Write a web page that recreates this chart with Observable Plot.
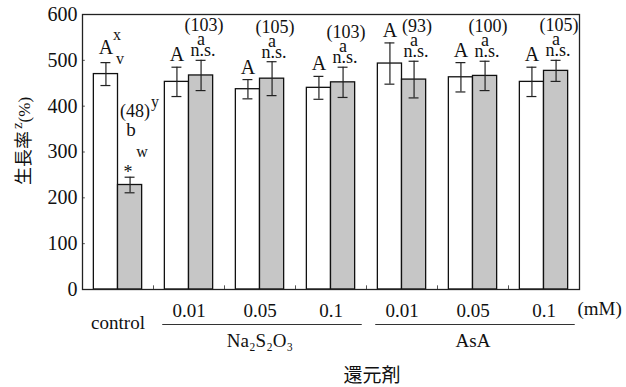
<!DOCTYPE html>
<html>
<head>
<meta charset="utf-8">
<script src="https://cdn.jsdelivr.net/npm/d3@7"></script>
<script src="https://cdn.jsdelivr.net/npm/@observablehq/plot@0.6"></script>
<style>
  html, body { margin: 0; padding: 0; background: white; }
</style>
</head>
<body>
<div id="chart"></div>
<script>
// ---- data ----
const groups = ["control", "Na-0.01", "Na-0.05", "Na-0.1", "AsA-0.01", "AsA-0.05", "AsA-0.1"];
const concLabels = ["", "0.01", "0.05", "0.1", "0.01", "0.05", "0.1"];
const agentNames = ["Na₂S₂O₃", "AsA"];
const agentOfGroup = [null, 0, 0, 0, 1, 1, 1];
const whiteMean = [470, 453, 437, 440, 493, 463, 453];
const whiteSD   = [25, 32, 21, 25, 45, 32, 32];
const grayMean  = [228, 467, 460, 452, 458, 466, 477];
const graySD    = [17, 33, 37, 33, 40, 32, 23];
const whiteLetters = ["A", "A", "A", "A", "A", "A", "A"];
const grayLetters  = ["b", "a", "a", "a", "a", "a", "a"];
const grayRatio    = ["(48)", "(103)", "(105)", "(103)", "(93)", "(100)", "(105)"];
const graySig      = ["*", "n.s.", "n.s.", "n.s.", "n.s.", "n.s.", "n.s."];
const yTicks = [0, 100, 200, 300, 400, 500, 600];

// ---- derived rows ----
const PAD = 0.16;
const rows = [];
groups.forEach((g, i) => {
  rows.push({gi: i, kind: "w", mean: whiteMean[i], sd: whiteSD[i], x1: i + PAD, x2: i + 0.5});
  rows.push({gi: i, kind: "g", mean: grayMean[i], sd: graySD[i], x1: i + 0.5, x2: i + 1 - PAD});
});
rows.forEach(d => { d.c = (d.x1 + d.x2) / 2; d.top = d.mean + d.sd; d.bot = d.mean - d.sd; });
const whites = rows.filter(d => d.kind === "w");
const grays = rows.filter(d => d.kind === "g");
const ctlW = whites.filter(d => d.gi === 0), othW = whites.filter(d => d.gi > 0);
const ctlG = grays.filter(d => d.gi === 0), othG = grays.filter(d => d.gi > 0);
const spans = agentNames.map((name, a) => {
  const idx = agentOfGroup.map((v, i) => v === a ? i : -1).filter(i => i >= 0);
  return {name, from: d3.min(idx), to: d3.max(idx) + 1};
});
const CAP = 0.07;
const serif = "Liberation Serif";
const cjk = "Noto Sans CJK JP";
const T = (data, opts) => Plot.text(data, {x: "c", y: "top", lineAnchor: "bottom", fontFamily: serif, fill: "#111", ...opts});

const svg = Plot.plot({
  width: 626, height: 387,
  marginLeft: 82, marginRight: 47, marginTop: 14, marginBottom: 98,
  x: {domain: [0, groups.length], axis: null},
  y: {domain: [0, 600], axis: null},
  style: {fontFamily: "'Liberation Serif', serif", fontSize: "18px", background: "white", color: "#111"},
  marks: [
    Plot.rect(rows, {x1: "x1", x2: "x2", y1: 0, y2: "mean",
      fill: d => d.kind === "w" ? "white" : "#c6c6c6", stroke: "#111", strokeWidth: 1.3}),
    // error bars
    Plot.ruleX(rows, {x: "c", y1: "bot", y2: "top", stroke: "#222", strokeWidth: 1.2}),
    Plot.ruleY(rows, {y: "top", x1: d => d.c - CAP, x2: d => d.c + CAP, stroke: "#222", strokeWidth: 1.2}),
    Plot.ruleY(rows, {y: "bot", x1: d => d.c - CAP, x2: d => d.c + CAP, stroke: "#222", strokeWidth: 1.2}),
    // inner ticks
    Plot.ruleY(yTicks.slice(1, -1), {y: d => d, x1: 0, x2: 0.04, stroke: "#555", strokeWidth: 1}),
    Plot.ruleX(d3.range(1, groups.length), {x: d => d, y1: 0, y2: 8, stroke: "#555", strokeWidth: 1}),
    Plot.frame({stroke: "#222", strokeWidth: 1.3}),
    Plot.axisY(yTicks, {tickSize: 0, tickPadding: 5, fontSize: 20, fontFamily: serif, label: null}),
    // white-bar letters
    T(othW, {text: d => whiteLetters[d.gi], dy: -6, fontSize: 20}),
    T(ctlW, {text: d => whiteLetters[d.gi], dy: -9, fontSize: 20}),
    T(ctlW, {text: () => "x", dx: 11, dy: -23, fontSize: 16}),
    T(ctlW, {text: () => "v", dx: 14, dy: 1, fontSize: 16}),
    // gray-bar labels (treatments)
    T(othG, {text: d => graySig[d.gi], dx: 2, dy: -4, fontSize: 18}),
    T(othG, {text: d => grayLetters[d.gi], dy: -15, fontSize: 18}),
    T(othG, {text: d => grayRatio[d.gi], dx: 3, dy: -29, fontSize: 18}),
    // gray-bar labels (control)
    T(ctlG, {text: d => graySig[d.gi], dx: -2, dy: 1, fontSize: 18}),
    T(ctlG, {text: d => grayLetters[d.gi], dx: 1, dy: -41, fontSize: 19}),
    T(ctlG, {text: () => "w", dx: 12, dy: -20, fontSize: 16}),
    T(ctlG, {text: d => grayRatio[d.gi], dx: 5, dy: -60, fontSize: 18}),
    T(ctlG, {text: () => "y", dx: 25, dy: -70, fontSize: 16}),
    // x labels
    Plot.text(groups, {x: (d, i) => i + 0.5, text: (d, i) => concLabels[i], frameAnchor: "bottom", lineAnchor: "middle", dy: 21, fontSize: 19, fontFamily: serif}),
    Plot.text(groups.filter((d, i) => agentOfGroup[i] === null), {x: d => groups.indexOf(d) + 0.5, text: d => d, frameAnchor: "bottom", lineAnchor: "middle", dy: 33, fontSize: 19, fontFamily: serif}),
    Plot.ruleY(spans, {y: () => 0, x1: d => d.from + 0.13, x2: d => d.to - 0.06, dy: 35, stroke: "#333", strokeWidth: 1.2}),
    Plot.text(spans, {x: d => (d.from + d.to) / 2, text: "name", frameAnchor: "bottom", lineAnchor: "middle", dy: 51, fontSize: 19, fontFamily: serif}),
    Plot.text(["(mM)"], {frameAnchor: "bottom-right", textAnchor: "start", lineAnchor: "middle", dx: -2, dy: 19, fontSize: 19, fontFamily: serif}),
    Plot.text(["還元剤"], {frameAnchor: "bottom", lineAnchor: "middle", dx: 41, dy: 86, fontSize: 19, fontFamily: cjk})
  ]
});

// y-axis title with superscript
const s = d3.select(svg);
const t = s.append("text")
  .attr("transform", "translate(30,141) rotate(-90)")
  .attr("text-anchor", "middle")
  .attr("fill", "#111");
t.append("tspan").attr("font-family", cjk).attr("font-size", 18).text("生長率");
t.append("tspan").attr("font-family", serif).attr("font-size", 15).attr("dx", 2).attr("dy", -8).text("z");
t.append("tspan").attr("font-family", serif).attr("font-size", 17).attr("dy", 8).text("(%)");

document.getElementById("chart").appendChild(svg);
</script>
</body>
</html>
